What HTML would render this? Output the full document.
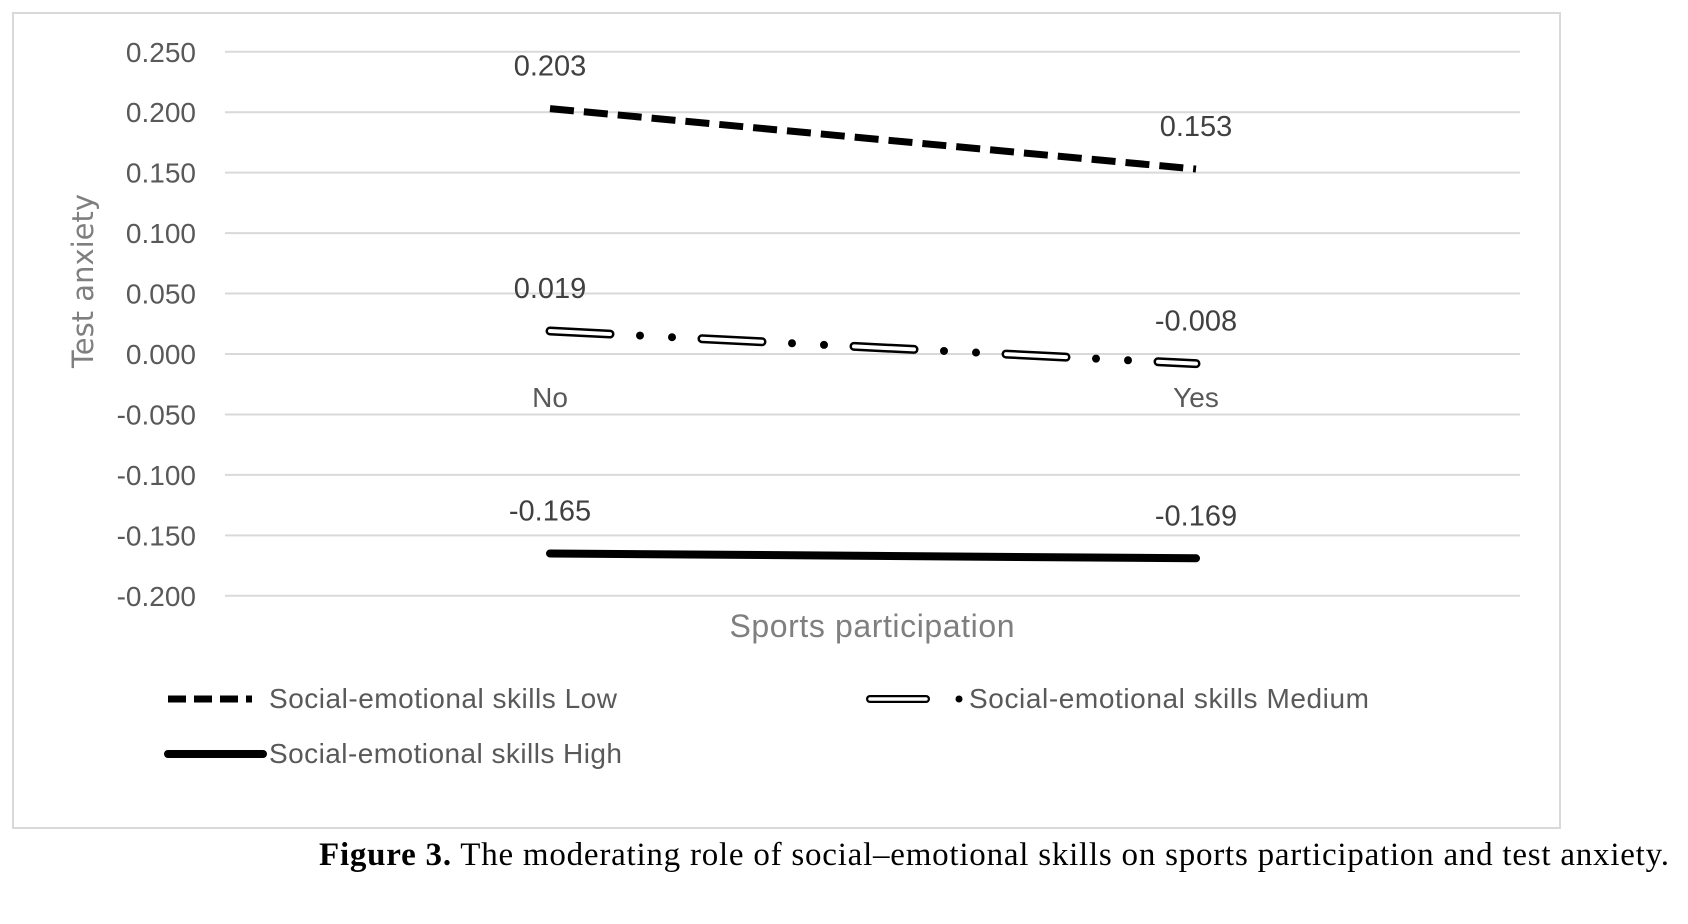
<!DOCTYPE html>
<html><head><meta charset="utf-8"><style>
html,body{margin:0;padding:0;background:#fff;}
svg{display:block;font-family:"Liberation Sans",sans-serif;}
</style></head><body>
<svg id="chart" width="1688" height="924" viewBox="0 0 1688 924">
<rect x="13" y="13" width="1547" height="815" fill="#fff" stroke="#d9d9d9" stroke-width="2"/>
<g id="grid"></g><g id="ylabels"></g><g id="series"></g><g id="labels"></g>
<text x="85" y="281" transform="rotate(-90 85 281)" text-anchor="middle" dominant-baseline="middle" font-family="DejaVu Sans, sans-serif" font-size="29" fill="#7f7f7f">Test anxiety</text>
<text x="872" y="637" text-anchor="middle" font-size="32" textLength="285" fill="#7f7f7f">Sports participation</text>
<g>
<g>
<line x1="168" y1="699" x2="252" y2="699" stroke="#000" stroke-width="7" stroke-dasharray="18,8"/>
<text x="269" y="708" font-size="28" textLength="348" fill="#595959">Social-emotional skills Low</text></g>
<g>
<line x1="870" y1="699" x2="926" y2="699" stroke="#000" stroke-width="8" stroke-linecap="round"/>
<line x1="870" y1="699" x2="926" y2="699" stroke="#fff" stroke-width="3.5" stroke-linecap="round"/>
<circle cx="959" cy="699" r="3.5" fill="#000"/>
<text x="969" y="708" font-size="28" textLength="400" fill="#595959">Social-emotional skills Medium</text></g>
<g>
<line x1="168" y1="754" x2="263" y2="754" stroke="#000" stroke-width="8" stroke-linecap="round"/>
<text x="269" y="763" font-size="28" textLength="353" fill="#595959">Social-emotional skills High</text></g>
</g>
<text x="319" y="865" font-family="Liberation Serif, serif" font-size="33" textLength="1350" fill="#000"><tspan font-weight="bold">Figure 3.</tspan> The moderating role of social–emotional skills on sports participation and test anxiety.</text>
</svg>
<script>
const categories = ["No", "Yes"];
const yTicks = [0.25, 0.2, 0.15, 0.1, 0.05, 0, -0.05, -0.1, -0.15, -0.2];
const tickLabels = ["0.250","0.200","0.150","0.100","0.050","0.000","-0.050","-0.100","-0.150","-0.200"];
const seriesNames = ["low", "medium", "high"];
const lowValues = [0.203, 0.153];
const mediumValues = [0.019, -0.008];
const highValues = [-0.165, -0.169];
const lowLabels = ["0.203", "0.153"];
const mediumLabels = ["0.019", "-0.008"];
const highLabels = ["-0.165", "-0.169"];

const NS = "http://www.w3.org/2000/svg";
const y = v => 354 - v * (60.44 / 0.05);
const x = i => 550 + i * 646;
function mk(tag, attrs, parent) {
  const e = document.createElementNS(NS, tag);
  for (const k in attrs) e.setAttribute(k, attrs[k]);
  parent.appendChild(e); return e;
}
const grid = document.getElementById("grid"), yl = document.getElementById("ylabels");
yTicks.forEach((t, i) => {
  const l = mk("line", {x1: 225, x2: 1520, y1: y(t), y2: y(t), stroke: "#d9d9d9", "stroke-width": 2}, grid);
  
  
  const tx = mk("text", {x: 196, y: y(t) + 10, "text-anchor": "end", "font-size": 28, fill: "#595959"}, yl);
  tx.textContent = tickLabels[i];
  
  
});
const lab = document.getElementById("labels");
categories.forEach((c, i) => {
  const t = mk("text", {x: x(i), y: 407, "text-anchor": "middle", "font-size": 28, fill: "#595959"}, lab);
  t.textContent = c;
  
  
});
const ser = document.getElementById("series");
let s = mk("line", {x1: x(0), y1: y(lowValues[0]), x2: x(1), y2: y(lowValues[1]), stroke: "#000", "stroke-width": 7, "stroke-dasharray": "24,10"}, ser);


const g = mk("g", {}, ser);


const x0 = x(0), x1 = x(1), y0 = y(mediumValues[0]), y1 = y(mediumValues[1]);
const L = x1 - x0, period = 152;
for (let p = 0; p < L; p += period) {
  const a = p, b = Math.min(p + 60, L);
  const pt = d => [x0 + d, y0 + (y1 - y0) * d / L];
  const A = pt(a), B = pt(b);
  mk("line", {x1: A[0], y1: A[1], x2: B[0], y2: B[1], stroke: "#000", "stroke-width": 9, "stroke-linecap": "round"}, g);
  mk("line", {x1: A[0], y1: A[1], x2: B[0], y2: B[1], stroke: "#fff", "stroke-width": 4, "stroke-linecap": "round"}, g);
  [90, 122].forEach(d => { if (p + d < L) { const c = pt(p + d); mk("circle", {cx: c[0], cy: c[1], r: 4, fill: "#000"}, g); } });
}
s = mk("line", {x1: x(0), y1: y(highValues[0]), x2: x(1), y2: y(highValues[1]), stroke: "#000", "stroke-width": 8, "stroke-linecap": "round"}, ser);


[[lowValues, lowLabels], [mediumValues, mediumLabels], [highValues, highLabels]].forEach(sv => {
  sv[0].forEach((v, i) => {
    const t = mk("text", {x: x(i), y: y(v) - 33, "text-anchor": "middle", "font-size": 29, fill: "#404040"}, lab);
    t.textContent = sv[1][i];
    
    
  });
});
</script>
</body></html>
